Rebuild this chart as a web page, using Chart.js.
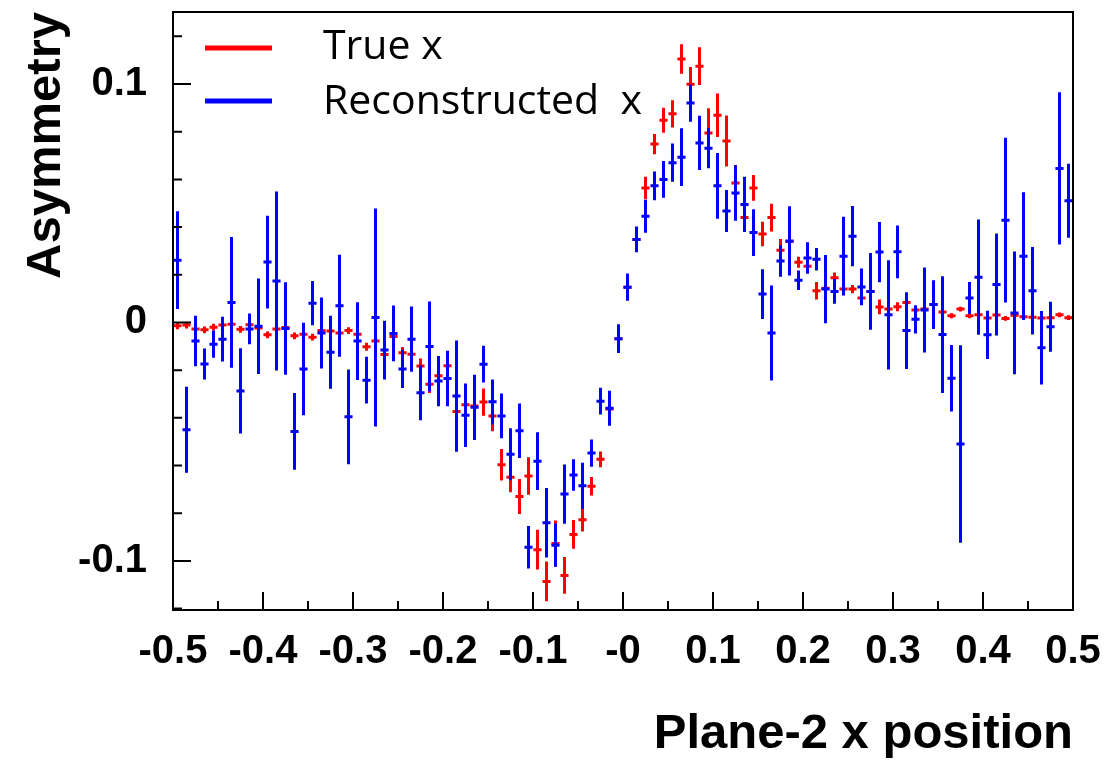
<!DOCTYPE html>
<html>
<head>
<meta charset="utf-8">
<title>Asymmetry vs Plane-2 x position</title>
<script src="https://cdn.jsdelivr.net/npm/chart.js@4.4.1/dist/chart.umd.min.js"></script>
<style>
  html, body { margin: 0; padding: 0; background: #fff; }
  #wrap { width: 1107px; height: 760px; position: relative; }
</style>
</head>
<body>
<div id="wrap"><canvas id="chart"></canvas></div>
<script>
// bin centres, bin width 0.01
var binCenters = [
  -0.495, -0.485, -0.475, -0.465, -0.455, -0.445, -0.435, -0.425, -0.415, -0.405,
  -0.395, -0.385, -0.375, -0.365, -0.355, -0.345, -0.335, -0.325, -0.315, -0.305,
  -0.295, -0.285, -0.275, -0.265, -0.255, -0.245, -0.235, -0.225, -0.215, -0.205,
  -0.195, -0.185, -0.175, -0.165, -0.155, -0.145, -0.135, -0.125, -0.115, -0.105,
  -0.095, -0.085, -0.075, -0.065, -0.055, -0.045, -0.035, -0.025, -0.015, -0.005,
  0.005, 0.015, 0.025, 0.035, 0.045, 0.055, 0.065, 0.075, 0.085, 0.095,
  0.105, 0.115, 0.125, 0.135, 0.145, 0.155, 0.165, 0.175, 0.185, 0.195,
  0.205, 0.215, 0.225, 0.235, 0.245, 0.255, 0.265, 0.275, 0.285, 0.295,
  0.305, 0.315, 0.325, 0.335, 0.345, 0.355, 0.365, 0.375, 0.385, 0.395,
  0.405, 0.415, 0.425, 0.435, 0.445, 0.455, 0.465, 0.475, 0.485, 0.495
];

// "True x" asymmetry and its error
var trueAsym = [
  -0.0014, -0.0011, -0.0027, -0.0031, -0.0020, -0.0011, -0.0008, -0.0029, -0.0010, -0.0023,
  -0.0052, -0.0028, -0.0021, -0.0056, -0.0050, -0.0062, -0.0034, -0.0036, -0.0044, -0.0034,
  -0.0050, -0.0102, -0.0078, -0.0134, -0.0059, -0.0127, -0.0133, -0.0183, -0.0259, -0.0224,
  -0.0182, -0.0373, -0.0345, -0.0350, -0.0334, -0.0392, -0.0597, -0.0649, -0.0730, -0.0644,
  -0.0953, -0.1086, -0.0927, -0.1061, -0.0889, -0.0827, -0.0687, -0.0574, -0.0363, -0.0068,
  0.0148, 0.0348, 0.0564, 0.0748, 0.0848, 0.0875, 0.1105, 0.0999, 0.1075, 0.0795,
  0.0869, 0.0761, 0.0585, 0.0440, 0.0564, 0.0371, 0.0440, 0.0303, 0.0340, 0.0252,
  0.0236, 0.0133, 0.0143, 0.0187, 0.0140, 0.0140, 0.0102, 0.0130, 0.0065, 0.0056,
  0.0066, 0.0084, 0.0052, 0.0056, 0.0075, 0.0044, 0.0028, 0.0056, 0.0028, 0.0032,
  0.0019, 0.0031, 0.0017, 0.0030, 0.0024, 0.0022, 0.0019, 0.0020, 0.0032, 0.0020
];
var trueErr = [
  0.0012, 0.0012, 0.0012, 0.0012, 0.0012, 0.0012, 0.0012, 0.0012, 0.0012, 0.0012,
  0.0012, 0.0012, 0.0012, 0.0012, 0.0012, 0.0012, 0.0012, 0.0012, 0.0012, 0.0012,
  0.0012, 0.0015, 0.0015, 0.0015, 0.0012, 0.0022, 0.0015, 0.0030, 0.0035, 0.0025,
  0.0020, 0.0020, 0.0020, 0.0040, 0.0055, 0.0062, 0.0064, 0.0061, 0.0071, 0.0077,
  0.0081, 0.0081, 0.0094, 0.0075, 0.0058, 0.0048, 0.0037, 0.0031, 0.0037, 0.0030,
  0.0030, 0.0030, 0.0045, 0.0040, 0.0050, 0.0055, 0.0060, 0.0070, 0.0077, 0.0101,
  0.0089, 0.0105, 0.0073, 0.0050, 0.0052, 0.0049, 0.0056, 0.0045, 0.0040, 0.0021,
  0.0020, 0.0035, 0.0020, 0.0020, 0.0015, 0.0015, 0.0015, 0.0015, 0.0029, 0.0015,
  0.0017, 0.0012, 0.0012, 0.0012, 0.0012, 0.0008, 0.0008, 0.0008, 0.0008, 0.0008,
  0.0008, 0.0008, 0.0008, 0.0008, 0.0008, 0.0008, 0.0008, 0.0008, 0.0008, 0.0008
];

// "Reconstructed x" asymmetry and its error
var recoAsym = [
  0.0261, -0.0450, -0.0078, -0.0174, -0.0091, -0.0070, 0.0084, -0.0287, -0.0027, -0.0016,
  0.0253, 0.0174, -0.0025, -0.0457, -0.0195, 0.0081, -0.0044, -0.0125, 0.0070, -0.0396,
  -0.0078, -0.0242, 0.0021, -0.0116, -0.0046, -0.0195, -0.0070, -0.0295, -0.0101, -0.0246,
  -0.0235, -0.0309, -0.0389, -0.0356, -0.0175, -0.0333, -0.0392, -0.0553, -0.0454, -0.0943,
  -0.0582, -0.0840, -0.0934, -0.0720, -0.0640, -0.0685, -0.0548, -0.0330, -0.0360, -0.0068,
  0.0148, 0.0348, 0.0445, 0.0573, 0.0600, 0.0670, 0.0693, 0.0920, 0.0753, 0.0731,
  0.0573, 0.0467, 0.0543, 0.0495, 0.0377, 0.0119, -0.0044, 0.0258, 0.0342, 0.0177,
  0.0270, 0.0265, 0.0140, 0.0130, 0.0278, 0.0362, 0.0149, 0.0130, 0.0295, 0.0032,
  0.0296, -0.0034, 0.0013, 0.0052, 0.0075, -0.0051, -0.0234, -0.0510, 0.0103, 0.0190,
  -0.0052, 0.0159, 0.0429, 0.0040, 0.0278, 0.0133, -0.0106, -0.0018, 0.0646, 0.0510
];
var recoErr = [
  0.0203, 0.0178, 0.0104, 0.0063, 0.0055, 0.0092, 0.0272, 0.0177, 0.0062, 0.0198,
  0.0192, 0.0373, 0.0192, 0.0159, 0.0192, 0.0091, 0.0147, 0.0151, 0.0212, 0.0197,
  0.0161, 0.0096, 0.0455, 0.0121, 0.0115, 0.0078, 0.0135, 0.0113, 0.0187, 0.0103,
  0.0114, 0.0231, 0.0131, 0.0135, 0.0075, 0.0092, 0.0092, 0.0107, 0.0112, 0.0087,
  0.0119, 0.0144, 0.0089, 0.0122, 0.0064, 0.0094, 0.0055, 0.0054, 0.0071, 0.0058,
  0.0055, 0.0052, 0.0067, 0.0058, 0.0075, 0.0078, 0.0119, 0.0076, 0.0112, 0.0082,
  0.0136, 0.0086, 0.0114, 0.0114, 0.0096, 0.0102, 0.0197, 0.0064, 0.0143, 0.0039,
  0.0064, 0.0045, 0.0141, 0.0050, 0.0163, 0.0124, 0.0075, 0.0159, 0.0124, 0.0227,
  0.0109, 0.0159, 0.0057, 0.0176, 0.0100, 0.0243, 0.0137, 0.0412, 0.0065, 0.0240,
  0.0099, 0.0212, 0.0343, 0.0255, 0.0266, 0.0181, 0.0152, 0.0103, 0.0317, 0.0153
];

var xTickLabels = ['-0.5', '-0.4', '-0.3', '-0.2', '-0.1', '-0', '0.1', '0.2', '0.3', '0.4', '0.5'];
var yTickLabels = ['-0.1', '0', '0.1'];

var HALF_BIN = 0.0045;
var BOLD = "'Liberation Sans', Arial, Helvetica, sans-serif";

function points(vals, errs) {
  return binCenters.map(function (x, i) {
    return { x: x, y: vals[i], err: errs[i] };
  });
}

// the layout is pinned by layout.padding, not by label overhang
function noOverhang(s) {
  s.paddingTop = 0;
  s.paddingBottom = 0;
  s.paddingLeft = 0;
  s.paddingRight = 0;
}

// draws the error crosses for every point
var errorBars = {
  id: 'errorBars',
  afterDatasetsDraw: function (chart) {
    var ctx = chart.ctx, xs = chart.scales.x, ys = chart.scales.y, a = chart.chartArea;
    ctx.save();
    ctx.beginPath();
    ctx.rect(a.left, a.top, a.right - a.left, a.bottom - a.top);
    ctx.clip();
    chart.data.datasets.forEach(function (ds) {
      ctx.strokeStyle = ds.borderColor;
      ctx.lineWidth = 3;
      ctx.beginPath();
      ds.data.forEach(function (p) {
        var px = xs.getPixelForValue(p.x);
        var py = ys.getPixelForValue(p.y);
        ctx.moveTo(px, ys.getPixelForValue(p.y - p.err) + 0.5);
        ctx.lineTo(px, ys.getPixelForValue(p.y + p.err) - 0.5);
        ctx.moveTo(xs.getPixelForValue(p.x - HALF_BIN), py);
        ctx.lineTo(xs.getPixelForValue(p.x + HALF_BIN), py);
      });
      ctx.stroke();
    });
    ctx.restore();
  }
};

// ROOT style frame with inward ticks
var frame = {
  id: 'frame',
  afterDraw: function (chart) {
    var ctx = chart.ctx, xs = chart.scales.x, ys = chart.scales.y, a = chart.chartArea;
    ctx.save();
    ctx.strokeStyle = '#000';
    ctx.lineWidth = 2;
    ctx.strokeRect(a.left, a.top, a.right - a.left, a.bottom - a.top);
    ctx.beginPath();
    var v, p, i;
    for (i = -10; i <= 10; i++) {
      v = i * 0.05;
      p = xs.getPixelForValue(v);
      ctx.moveTo(p, a.bottom);
      ctx.lineTo(p, a.bottom - (i % 2 === 0 ? 18 : 9));
    }
    for (i = -6; i <= 6; i++) {
      v = i * 0.02;
      p = ys.getPixelForValue(v);
      if (p < a.top || p > a.bottom) continue;
      ctx.moveTo(a.left, p);
      ctx.lineTo(a.left + (i % 5 === 0 ? 18 : 9), p);
    }
    ctx.stroke();
    ctx.restore();
  }
};

// legend in the upper left corner of the frame
var cornerLegend = {
  id: 'cornerLegend',
  afterDraw: function (chart) {
    var ctx = chart.ctx, a = chart.chartArea;
    ctx.save();
    ctx.font = "41px 'Open Sans', 'Noto Sans', sans-serif";
    ctx.textBaseline = 'middle';
    ctx.fillStyle = '#000';
    chart.data.datasets.forEach(function (ds, i) {
      var y = a.top + 36 + i * 53;
      ctx.strokeStyle = ds.borderColor;
      ctx.lineWidth = 5;
      ctx.beginPath();
      ctx.moveTo(a.left + 32, y);
      ctx.lineTo(a.left + 99, y);
      ctx.stroke();
      ctx.fillText(ds.label, a.left + 150, y - 1 + i * 2);
    });
    ctx.restore();
  }
};

new Chart(document.getElementById('chart'), {
  type: 'scatter',
  data: {
    datasets: [{
      label: 'True x',
      data: points(trueAsym, trueErr),
      borderColor: '#ff0000',
      backgroundColor: '#ff0000',
      pointRadius: 0,
      showLine: false
    }, {
      label: 'Reconstructed  x',
      data: points(recoAsym, recoErr),
      borderColor: '#0000ff',
      backgroundColor: '#0000ff',
      pointRadius: 0,
      showLine: false
    }]
  },
  options: {
    responsive: true,
    maintainAspectRatio: false,
    animation: false,
    layout: { padding: { top: 12, right: 34, bottom: 0, left: 0 } },
    plugins: {
      legend: { display: false },
      tooltip: { enabled: false }
    },
    scales: {
      x: {
        type: 'linear',
        min: -0.5,
        max: 0.5,
        afterFit: function (s) { s.height = 150; noOverhang(s); },
        grid: { display: false, drawTicks: false },
        border: { display: false },
        ticks: {
          stepSize: 0.1,
          padding: 18,
          autoSkip: false,
          maxRotation: 0,
          color: '#000',
          font: { family: BOLD, size: 40, weight: 'bold' },
          callback: function (v, i) { return xTickLabels[i]; }
        },
        title: {
          display: true,
          text: 'Plane-2 x position',
          align: 'end',
          color: '#000',
          font: { family: BOLD, size: 49, weight: 'bold', lineHeight: 1.05 },
          padding: { top: 0, bottom: 0 }
        }
      },
      y: {
        type: 'linear',
        min: -0.1206,
        max: 0.1302,
        afterFit: function (s) { s.width = 173; noOverhang(s); },
        grid: { display: false, drawTicks: false },
        border: { display: false },
        ticks: {
          stepSize: 0.1,
          includeBounds: false,
          padding: 26,
          color: '#000',
          font: { family: BOLD, size: 40, weight: 'bold' },
          callback: function (v, i) { return yTickLabels[i]; }
        },
        title: {
          display: true,
          text: 'Asymmetry',
          align: 'end',
          color: '#000',
          font: { family: BOLD, size: 49, weight: 'bold' },
          padding: { top: 17, bottom: 0 }
        }
      }
    }
  },
  plugins: [errorBars, frame, cornerLegend]
});
</script>
</body>
</html>
